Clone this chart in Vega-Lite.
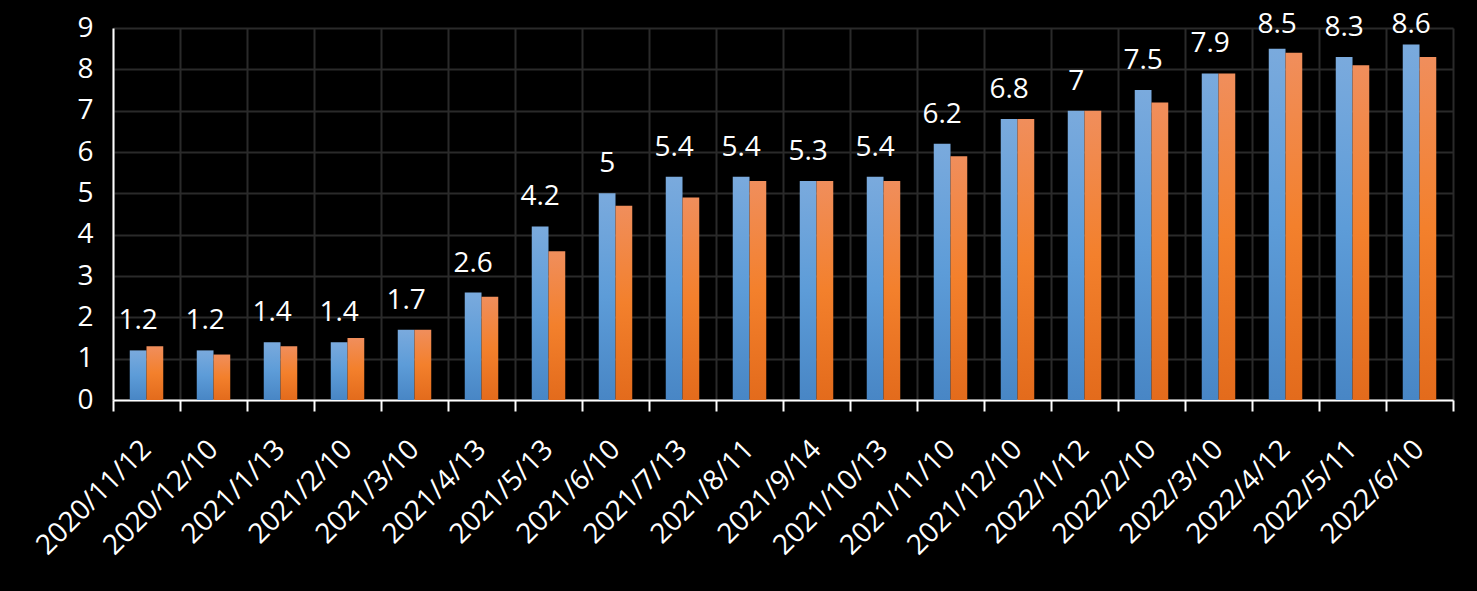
{
  "$schema": "https://vega.github.io/schema/vega-lite/v6.json",
  "width": 1340,
  "height": 372,
  "autosize": "none",
  "padding": {"left": 113, "top": 28, "right": 24, "bottom": 191},
  "background": "#000000",
  "config": {
    "view": {"stroke": null},
    "font": "Open Sans"
  },
  "resolve": {"scale": {"y": "independent"}},
  "data": {
    "values": [
      {"date": "2020/11/12", "series": "s1", "value": 1.2},
      {"date": "2020/11/12", "series": "s2", "value": 1.3},
      {"date": "2020/12/10", "series": "s1", "value": 1.2},
      {"date": "2020/12/10", "series": "s2", "value": 1.1},
      {"date": "2021/1/13", "series": "s1", "value": 1.4},
      {"date": "2021/1/13", "series": "s2", "value": 1.3},
      {"date": "2021/2/10", "series": "s1", "value": 1.4},
      {"date": "2021/2/10", "series": "s2", "value": 1.5},
      {"date": "2021/3/10", "series": "s1", "value": 1.7},
      {"date": "2021/3/10", "series": "s2", "value": 1.7},
      {"date": "2021/4/13", "series": "s1", "value": 2.6},
      {"date": "2021/4/13", "series": "s2", "value": 2.5},
      {"date": "2021/5/13", "series": "s1", "value": 4.2},
      {"date": "2021/5/13", "series": "s2", "value": 3.6},
      {"date": "2021/6/10", "series": "s1", "value": 5},
      {"date": "2021/6/10", "series": "s2", "value": 4.7},
      {"date": "2021/7/13", "series": "s1", "value": 5.4},
      {"date": "2021/7/13", "series": "s2", "value": 4.9},
      {"date": "2021/8/11", "series": "s1", "value": 5.4},
      {"date": "2021/8/11", "series": "s2", "value": 5.3},
      {"date": "2021/9/14", "series": "s1", "value": 5.3},
      {"date": "2021/9/14", "series": "s2", "value": 5.3},
      {"date": "2021/10/13", "series": "s1", "value": 5.4},
      {"date": "2021/10/13", "series": "s2", "value": 5.3},
      {"date": "2021/11/10", "series": "s1", "value": 6.2},
      {"date": "2021/11/10", "series": "s2", "value": 5.9},
      {"date": "2021/12/10", "series": "s1", "value": 6.8},
      {"date": "2021/12/10", "series": "s2", "value": 6.8},
      {"date": "2022/1/12", "series": "s1", "value": 7},
      {"date": "2022/1/12", "series": "s2", "value": 7},
      {"date": "2022/2/10", "series": "s1", "value": 7.5},
      {"date": "2022/2/10", "series": "s2", "value": 7.2},
      {"date": "2022/3/10", "series": "s1", "value": 7.9},
      {"date": "2022/3/10", "series": "s2", "value": 7.9},
      {"date": "2022/4/12", "series": "s1", "value": 8.5},
      {"date": "2022/4/12", "series": "s2", "value": 8.4},
      {"date": "2022/5/11", "series": "s1", "value": 8.3},
      {"date": "2022/5/11", "series": "s2", "value": 8.1},
      {"date": "2022/6/10", "series": "s1", "value": 8.6},
      {"date": "2022/6/10", "series": "s2", "value": 8.3}
    ]
  },
  "encoding": {
    "x": {
      "field": "date",
      "type": "nominal",
      "sort": null,
      "scale": {"paddingInner": 0, "paddingOuter": 0},
      "axis": {
        "title": null,
        "tickBand": "extent",
        "grid": true,
        "gridColor": "#2a2a2a",
        "gridWidth": 2,
        "domainColor": "#ffffff",
        "domainWidth": 2,
        "tickColor": "#ffffff",
        "tickWidth": 2,
        "tickSize": 11,
        "labelAngle": -45,
        "labelAlign": "right",
        "labelBaseline": "middle",
        "labelFontSize": 28,
        "labelColor": "#ffffff",
        "labelPadding": 34,
        "labelOverlap": false,
        "labelFlush": false,
        "labelBound": false
      }
    },
    "xOffset": {"field": "series", "type": "nominal", "scale": {"domain": ["s1", "s2"], "paddingInner": 0, "paddingOuter": 1.577}}
  },
  "layer": [
    {
      "transform": [{"filter": "datum.series == 's1'"}],
      "mark": {
        "type": "bar",
        "color": {
          "gradient": "linear",
          "x1": 0, "y1": 0, "x2": 0, "y2": 1,
          "stops": [
            {"offset": 0, "color": "#7aaadd"},
            {"offset": 0.5, "color": "#5d9cd8"},
            {"offset": 1, "color": "#4886c5"}
          ]
        }
      },
      "encoding": {
        "y": {
          "field": "value",
          "type": "quantitative",
          "scale": {"domain": [0, 9], "nice": false},
          "axis": {
            "title": null,
            "values": [0, 1, 2, 3, 4, 5, 6, 7, 8, 9],
            "grid": true,
            "gridColor": "#2a2a2a",
            "gridWidth": 2,
            "domainColor": "#ffffff",
            "domainWidth": 2,
            "ticks": false,
            "labelFontSize": 28,
            "labelColor": "#ffffff",
            "labelPadding": 20,
            "labelFlush": false,
            "labelOverlap": false
          }
        }
      }
    },
    {
      "transform": [{"filter": "datum.series == 's2'"}],
      "mark": {
        "type": "bar",
        "color": {
          "gradient": "linear",
          "x1": 0, "y1": 0, "x2": 0, "y2": 1,
          "stops": [
            {"offset": 0, "color": "#f08e5c"},
            {"offset": 0.5, "color": "#f3802c"},
            {"offset": 1, "color": "#e36b1c"}
          ]
        }
      },
      "encoding": {
        "y": {
          "field": "value",
          "type": "quantitative",
          "scale": {"domain": [0, 9], "nice": false},
          "axis": null
        }
      }
    },
    {
      "transform": [{"filter": "datum.series == 's1'"}],
      "mark": {
        "type": "text",
        "color": "#ffffff",
        "fontSize": 28,
        "baseline": "alphabetic",
        "align": "center",
        "dy": -21
      },
      "encoding": {
        "y": {
          "field": "value",
          "type": "quantitative",
          "scale": {"domain": [0, 8.37], "range": [372, 26.04], "clamp": true, "nice": false, "zero": false},
          "axis": null
        },
        "text": {"field": "value", "type": "quantitative"}
      }
    }
  ]
}
